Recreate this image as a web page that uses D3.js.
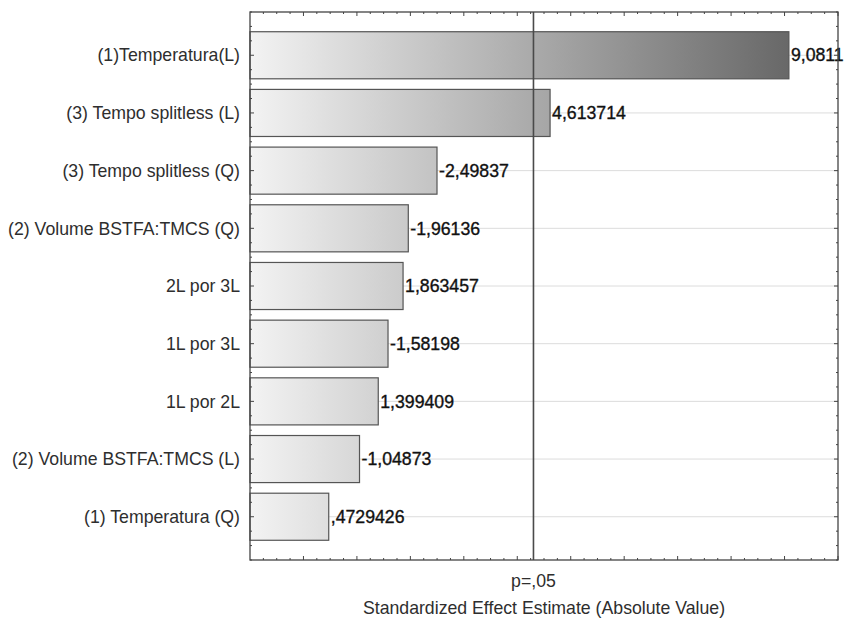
<!DOCTYPE html>
<html>
<head>
<meta charset="utf-8">
<script src="https://cdn.jsdelivr.net/npm/d3@7/dist/d3.min.js"></script>
<style>
  html, body { margin: 0; padding: 0; background: #fff; }
  svg { display: block; font-family: "Liberation Sans", Arial, sans-serif; }
</style>
</head>
<body>
<svg id="chart" width="846" height="621"></svg>
<script>
// Pareto chart of standardized effects
const factors = [
  "(1)Temperatura(L)",
  "(3) Tempo splitless (L)",
  "(3) Tempo splitless (Q)",
  "(2) Volume BSTFA:TMCS (Q)",
  "2L por 3L",
  "1L por 3L",
  "1L por 2L",
  "(2) Volume BSTFA:TMCS (L)",
  "(1) Temperatura (Q)"
];
const effects = [9.0811, 4.613714, -2.49837, -1.96136, 1.863457, -1.58198, 1.399409, -1.04873, 0.4729426];
const effectLabels = ["9,0811", "4,613714", "-2,49837", "-1,96136", "1,863457", "-1,58198", "1,399409", "-1,04873", ",4729426"];
const pCritical = 4.303;          // t critical value, p = .05
const pLabel = "p=,05";
const xTitle = "Standardized Effect Estimate (Absolute Value)";

const svg = d3.select("#chart");
const plotLeft = 250, plotRight = 838, plotTop = 12, plotBottom = 560;
const fontSize = 17.7;

const x = d3.scaleLinear().domain([-1, 10]).range([plotLeft, plotRight]);
const y = d3.scaleLinear().domain([0.25, factors.length + 0.75]).range([plotTop, plotBottom]);
const half = 0.408;

// horizontal gradient shared by all bars
const defs = svg.append("defs");
const grad = defs.append("linearGradient")
  .attr("id", "barGrad")
  .attr("gradientUnits", "userSpaceOnUse")
  .attr("x1", x(-1)).attr("x2", x(Math.max(...effects.map(Math.abs))))
  .attr("y1", 0).attr("y2", 0);
grad.append("stop").attr("offset", 0).attr("stop-color", "#f3f3f3");
grad.append("stop").attr("offset", 1).attr("stop-color", "#686868");

const idx = d3.range(1, factors.length + 1);

// grid lines at each factor
svg.append("g").selectAll("line").data(idx).join("line")
  .attr("x1", plotLeft).attr("x2", plotRight)
  .attr("y1", d => y(d)).attr("y2", d => y(d))
  .attr("stroke", "#dcdcdc").attr("stroke-width", 1);

// bars
svg.append("g").selectAll("rect").data(effects).join("rect")
  .attr("x", x(-1))
  .attr("y", (d, i) => y(i + 1 - half))
  .attr("width", d => x(Math.abs(d)) - x(-1))
  .attr("height", y(1 + half) - y(1 - half))
  .attr("fill", "url(#barGrad)")
  .attr("stroke", "#555").attr("stroke-width", 1.2);

// value labels
svg.append("g").selectAll("text").data(effects).join("text")
  .attr("x", d => x(Math.abs(d)) + 2)
  .attr("y", (d, i) => y(i + 1))
  .attr("dy", "0.35em")
  .attr("font-size", fontSize)
  .attr("fill", "#111")
  .attr("stroke", "#111").attr("stroke-width", 0.35)
  .text((d, i) => effectLabels[i]);

// significance line
svg.append("line")
  .attr("x1", x(pCritical)).attr("x2", x(pCritical))
  .attr("y1", plotTop).attr("y2", plotBottom)
  .attr("stroke", "#4a4a4a").attr("stroke-width", 1.6);

// frame
svg.append("rect")
  .attr("x", plotLeft).attr("y", plotTop)
  .attr("width", plotRight - plotLeft).attr("height", plotBottom - plotTop)
  .attr("fill", "none").attr("stroke", "#444").attr("stroke-width", 1.3);

// inward ticks on all four sides
const xMajor = d3.range(0, 11, 1);
const xMinor = d3.range(-1, 10.01, 0.25).filter(v => Math.abs(v - Math.round(v)) > 1e-6);
const yMajor = idx;
const yMinor = d3.range(0.25, factors.length + 0.76, 0.25).filter(v => Math.abs(v - Math.round(v)) > 1e-6);

const ticks = svg.append("g").attr("stroke", "#444").attr("stroke-width", 1);
[[plotTop, 1], [plotBottom, -1]].forEach(([yy, dir]) => {
  ticks.append("g").selectAll("line").data(xMajor).join("line")
    .attr("x1", d => x(d)).attr("x2", d => x(d))
    .attr("y1", yy).attr("y2", yy + dir * 4);
  ticks.append("g").selectAll("line").data(xMinor).join("line")
    .attr("x1", d => x(d)).attr("x2", d => x(d))
    .attr("y1", yy).attr("y2", yy + dir * 2);
});
[[plotLeft, 1], [plotRight, -1]].forEach(([xx, dir]) => {
  ticks.append("g").selectAll("line").data(yMajor).join("line")
    .attr("y1", d => y(d)).attr("y2", d => y(d))
    .attr("x1", xx).attr("x2", xx + dir * 4);
  ticks.append("g").selectAll("line").data(yMinor).join("line")
    .attr("y1", d => y(d)).attr("y2", d => y(d))
    .attr("x1", xx).attr("x2", xx + dir * 2);
});

// factor names
svg.append("g").selectAll("text").data(factors).join("text")
  .attr("x", plotLeft - 10)
  .attr("y", (d, i) => y(i + 1))
  .attr("dy", "0.35em")
  .attr("text-anchor", "end")
  .attr("font-size", fontSize)
  .attr("fill", "#2e2e2e")
  .text(d => d);

// p label and axis title
svg.append("text")
  .attr("x", x(pCritical)).attr("y", 587)
  .attr("text-anchor", "middle")
  .attr("font-size", fontSize).attr("fill", "#2e2e2e")
  .text(pLabel);
svg.append("text")
  .attr("x", (plotLeft + plotRight) / 2).attr("y", 614)
  .attr("text-anchor", "middle")
  .attr("font-size", fontSize).attr("fill", "#2e2e2e")
  .text(xTitle);
</script>
</body>
</html>
